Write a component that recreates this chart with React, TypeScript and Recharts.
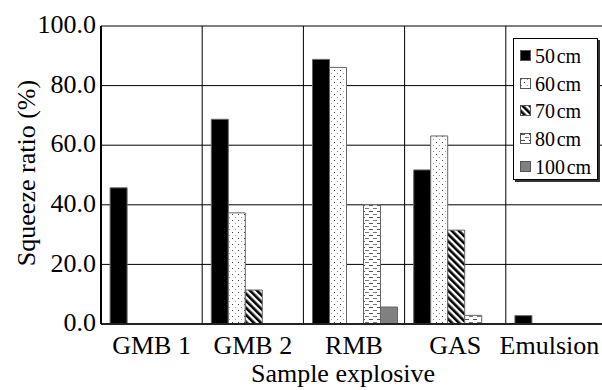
import React from "react";
import { BarChart, Bar, XAxis, YAxis, CartesianGrid, Legend } from "recharts";

const categories = ["GMB 1", "GMB 2", "RMB", "GAS", "Emulsion"];
const series = ["50cm", "60cm", "70cm", "80cm", "100cm"];
const legendLabels = ["50\u200Acm", "60\u200Acm", "70\u200Acm", "80\u200Acm", "100\u200Acm"];
const v50 = [45.7, 68.7, 88.8, 51.7, 2.8];
const v60 = [null, 37.3, 86.1, 63.1, null];
const v70 = [null, 11.4, null, 31.5, null];
const v80 = [null, null, 40.0, 2.9, null];
const v100 = [null, null, 5.7, null, null];
const yTicks = [0, 20, 40, 60, 80, 100];

const seriesValues = [v50, v60, v70, v80, v100];
const data = categories.map((c, i) => {
  const row: any = { name: c };
  series.forEach((s, j) => {
    row[s] = seriesValues[j][i];
  });
  return row;
});

const fills = ["#000", "url(#p60)", "url(#p70)", "url(#p80)", "#808080"];
const legendFills = ["#000", "url(#lp60)", "url(#lp70)", "url(#lp80)", "#808080"];
const FONT = "Liberation Serif";

function Patterns({ prefix }: { prefix: string }) {
  return (
    <defs>
      <pattern id={`${prefix}60`} width="6" height="6" patternUnits="userSpaceOnUse">
        <rect width="6" height="6" fill="#fff" />
        <rect x="1" y="1" width="1" height="1" fill="#999" />
        <rect x="4" y="4" width="1" height="1" fill="#444" />
      </pattern>
      <pattern id={`${prefix}70`} width="5" height="5" patternUnits="userSpaceOnUse" patternTransform="rotate(-45)">
        <rect width="5" height="5" fill="#fff" />
        <rect x="0" y="0" width="2.6" height="5" fill="#000" />
      </pattern>
      <pattern id={`${prefix}80`} width="8" height="6" patternUnits="userSpaceOnUse">
        <rect width="8" height="6" fill="#fff" />
        <rect x="1" y="1" width="4" height="1" fill="#555" />
        <rect x="5" y="4" width="4" height="1" fill="#777" />
        <rect x="-3" y="4" width="4" height="1" fill="#777" />
      </pattern>
    </defs>
  );
}

function LegendBox() {
  return (
    <div
      style={{
        width: 85,
        height: 142,
        boxSizing: "border-box",
        border: "1px solid #000",
        background: "#fff",
        boxShadow: "2px 2px 0 #333",
        paddingTop: 3,
        fontFamily: FONT,
        fontSize: 20,
        color: "#000",
      }}
    >
      <svg width="0" height="0" style={{ position: "absolute" }}>
        <Patterns prefix="lp" />
      </svg>
      {series.map((s, i) => (
        <div key={s} style={{ height: 27.7, display: "flex", alignItems: "center", paddingLeft: 6 }}>
          <svg width="12" height="12" style={{ marginRight: 3 }}>
            <rect x="0.5" y="0.5" width="10" height="10" fill={legendFills[i]} stroke="#555" strokeWidth="1" />
          </svg>
          <span style={{ lineHeight: "20px" }}>{legendLabels[i]}</span>
        </div>
      ))}
    </div>
  );
}

function XTick(props: any) {
  const { x, y, payload, index } = props;
  const shift = index === categories.length - 1 ? -7 : 0;
  return (
    <text x={x + shift} y={y} dy="0.71em" textAnchor="middle" fontSize={26} fill="#000" fontFamily={FONT}>
      {payload.value}
    </text>
  );
}

export default function App() {
  return (
    <div style={{ position: "absolute", left: 0, top: 0, width: 602, height: 390, overflow: "hidden", background: "#fff", fontFamily: FONT }}>
      <svg width="0" height="0" style={{ position: "absolute" }}>
        <Patterns prefix="p" />
      </svg>
      <BarChart
        width={610}
        height={390}
        data={data}
        margin={{ top: 26, right: 3, left: 0, bottom: 0 }}
        barCategoryGap="9%"
        barGap={0}
        style={{ fontFamily: FONT }}
      >
        <CartesianGrid
          stroke="#000"
          strokeWidth={1}
          verticalCoordinatesGenerator={({ offset }: any) =>
            categories.concat([""]).map((_, i) => offset.left + (i * offset.width) / categories.length)
          }
        />
        <XAxis
          dataKey="name"
          height={66}
          tickSize={0}
          tickMargin={12}
          tickLine={false}
          axisLine={{ stroke: "#222", strokeWidth: 2 }}
          tick={<XTick />}
          interval={0}
          label={{ value: "Sample explosive", position: "insideBottom", offset: 8, dx: -11, fontSize: 26, fill: "#000", fontFamily: FONT }}
        />
        <YAxis
          width={101}
          domain={[0, 100]}
          ticks={yTicks}
          tickSize={0}
          tickMargin={5}
          tickLine={false}
          axisLine={{ stroke: "#000", strokeWidth: 2 }}
          tickFormatter={(v: number) => v.toFixed(1)}
          tick={{ fontSize: 26, fill: "#000", fontFamily: FONT, dy: -2 }}
          label={{ value: "Squeeze ratio (%)", angle: -90, position: "center", dx: -25, dy: -2, fontSize: 26, fill: "#000", fontFamily: FONT }}
        />
        <Legend
          layout="vertical"
          align="center"
          verticalAlign="middle"
          content={() => <LegendBox />}
          wrapperStyle={{ position: "absolute", left: 513, top: 38, width: 85, height: 142 }}
        />
        {series.map((s, i) => (
          <Bar key={s} dataKey={s} fill={fills[i]} stroke="#666" strokeWidth={1} isAnimationActive={false} />
        ))}
      </BarChart>
    </div>
  );
}
